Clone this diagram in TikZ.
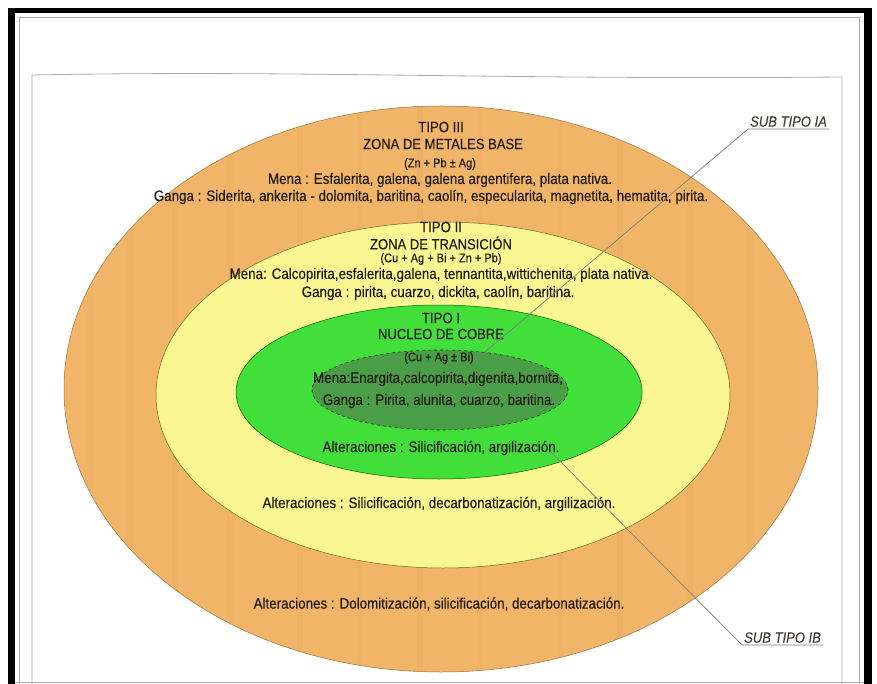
\documentclass[tikz,border=0pt]{standalone}
\usepackage{fontspec}
\setmainfont{Liberation Sans}[FakeStretch=0.88,FakeBold=0.35]
\usetikzlibrary{shapes.geometric}
\definecolor{orng}{RGB}{240,181,104}
\definecolor{orngdark}{RGB}{226,160,86}
\definecolor{ylw}{RGB}{250,246,146}
\definecolor{grn}{RGB}{66,222,58}
\definecolor{dgrn}{RGB}{74,158,72}
\definecolor{txt}{RGB}{35,28,20}
\definecolor{leader}{RGB}{130,125,120}
\definecolor{framegray}{RGB}{170,170,170}
\begin{document}
\begin{tikzpicture}[x=1pt,y=-1pt,
  lbl/.style={text=txt, inner sep=0pt, anchor=center},
  body/.style={lbl, font=\fontsize{15.2}{17}\selectfont},
  tipo/.style={lbl, font=\fontsize{15}{17}\selectfont},
  zona/.style={lbl, font=\fontsize{14.8}{17}\selectfont},
  formula/.style={lbl, font=\fontsize{12.5}{14}\selectfont},
  sublbl/.style={text=txt!85, inner sep=2pt, font=\fontsize{14.8}{17}\selectfont\itshape},
  leaderline/.style={draw=leader, line width=0.7pt}
]
\useasboundingbox (0,0) rectangle (877,684);
\fill[white] (0,0) rectangle (877,684);
% outer black frame
\fill[black] (8,8) rectangle (872,13);
\fill[black] (8,8) rectangle (15,684);
\fill[black] (864,8) rectangle (872,684);
\draw[framegray, line width=0.6pt] (19,17) -- (859,17);
\draw[framegray, line width=0.6pt] (19,17) -- (19,684);
\draw[framegray, line width=0.6pt] (859,17) -- (859,684);
\draw[framegray, line width=0.6pt] (15,682) -- (864,682);
% inner page frame
\draw[framegray, line width=0.8pt] (32,684) -- (32,75) .. controls (300,70) and (500,80) .. (842,77) -- (842,684);

% ellipses
\filldraw[fill=orng, draw=orngdark!70!black, line width=0.5pt] (441,389) ellipse [x radius=377pt, y radius=283pt];
\begin{scope}
  \clip (441,389) ellipse [x radius=377pt, y radius=283pt];
  \foreach \xx/\op in {90/0.12,130/0.1,175/0.15,230/0.1,300/0.12,360/0.1,420/0.15,480/0.1,560/0.12,620/0.15,690/0.1,750/0.12}
    \draw[orngdark, line width=6pt, opacity=\op] (\xx,100) -- (\xx,680);
\end{scope}
\filldraw[fill=ylw, draw=olive!70!black, line width=0.5pt] (443,395) ellipse [x radius=287pt, y radius=173pt];
\filldraw[fill=grn, draw=green!40!black, line width=0.5pt] (439,392) ellipse [x radius=203pt, y radius=87pt];
\filldraw[fill=dgrn, draw=green!25!black, dashed, line width=0.6pt] (440,390) ellipse [x radius=128pt, y radius=40pt];

% texts
\node[tipo] (t3) at (441,127) {TIPO III};
\node[zona] (z3) at (443,144) {ZONA DE METALES BASE};
\node[formula] (f3) at (440,164) {(Zn + Pb ± Ag)};
\node[body] (m3) at (440,180) {Mena : Esfalerita, galena, galena argentifera, plata nativa.};
\node[body] (g3) at (431,197) {Ganga : Siderita, ankerita - dolomita, baritina, caolín, especularita, magnetita, hematita, pirita.};

\node[tipo] (t2) at (441,227) {TIPO II};
\node[zona] (z2) at (441,243) {ZONA DE TRANSICIÓN};
\node[formula] (f2) at (441,259) {(Cu + Ag + Bi + Zn + Pb)};
\node[body] (m2) at (441,275) {Mena: Calcopirita,esfalerita,galena, tennantita,wittichenita, plata nativa.};
\node[body] (g2) at (438,293) {Ganga : pirita, cuarzo, dickita, caolín, baritina.};

\node[tipo] (t1) at (441,318) {TIPO I};
\node[zona] (z1) at (441,334) {NUCLEO DE COBRE};
\node[formula] (f1) at (439,358) {(Cu + Ag ± Bi)};
\node[body] (m1) at (438,379) {Mena:Enargita,calcopirita,digenita,bornita,};
\node[body] (g1) at (439,401) {Ganga : Pirita, alunita, cuarzo, baritina.};

\node[body] (a1) at (441,448) {Alteraciones : Silicificación, argilización.};
\node[body] (a2) at (439,504) {Alteraciones : Silicificación, decarbonatización, argilización.};
\node[body] (a3) at (439,604) {Alteraciones : Dolomitización, silicificación, decarbonatización.};

% sub-type labels with leaders
\node[sublbl, anchor=south west] (ia) at (748,129) {SUB TIPO IA};
\node[sublbl, anchor=south west] (ib) at (742,645) {SUB TIPO IB};
\coordinate (iaend) at (472,363);
\coordinate (ibstart) at (551,452);
\draw[leaderline] (iaend) -- (ia.south west) -- (ia.south east);
\draw[leaderline] (ibstart) -- (ib.south west) -- (ib.south east);
\end{tikzpicture}
\end{document}
